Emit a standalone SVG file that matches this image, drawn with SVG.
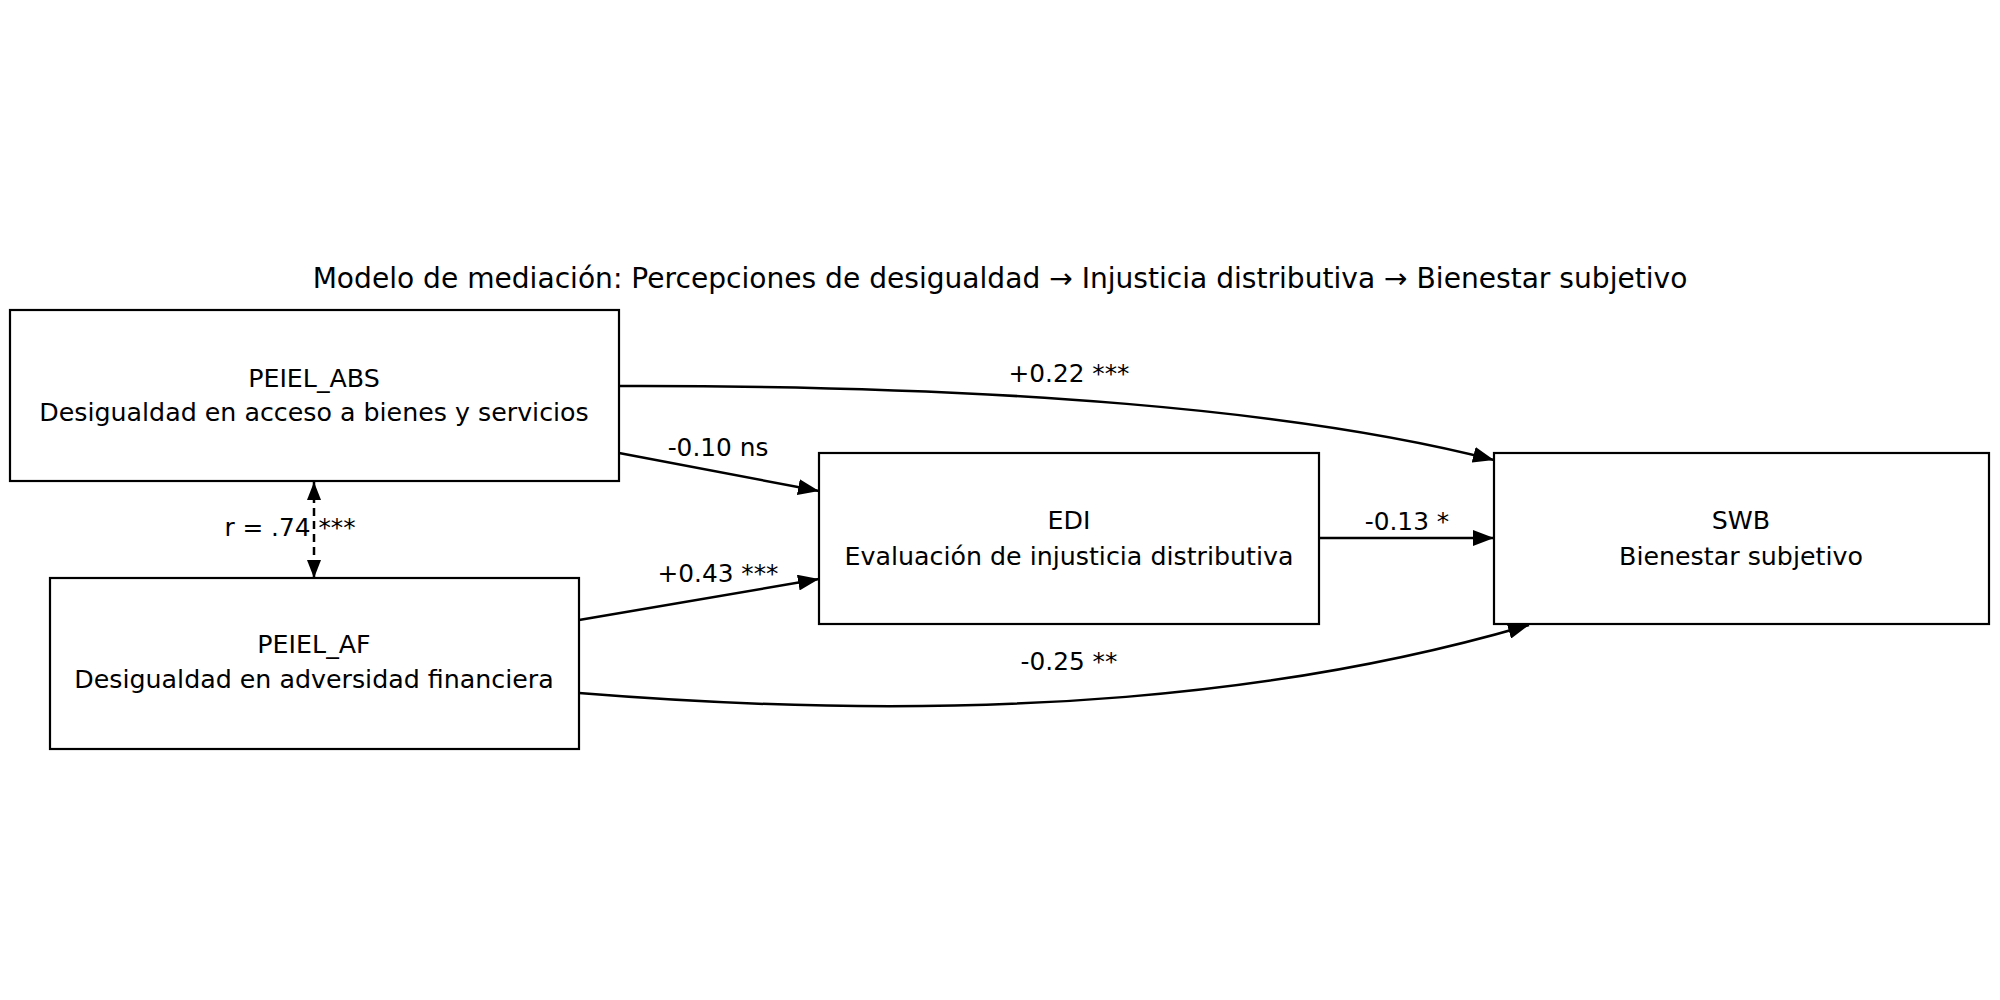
<svg xmlns="http://www.w3.org/2000/svg" width="2000" height="1000" viewBox="0 0 2000 1000">
<defs>
<style>
text{font-family:"DejaVu Sans","Liberation Sans",sans-serif;fill:#000;text-anchor:middle}
.t{font-size:28.1px}
.n{font-size:25.3px}
.l{font-size:24.8px}
.box{fill:#fff;stroke:#000;stroke-width:2.2}
.e{fill:none;stroke:#000;stroke-width:2.5}
</style>
<marker id="ah" viewBox="0 0 21 16" refX="21" refY="8" markerWidth="21" markerHeight="16" markerUnits="userSpaceOnUse" orient="auto"><path d="M0,0 L21,8 L0,16 z" fill="#000"/></marker>
<marker id="as" viewBox="0 0 18 14" refX="18" refY="7" markerWidth="18" markerHeight="14" markerUnits="userSpaceOnUse" orient="auto-start-reverse"><path d="M0,0 L18,7 L0,14 z" fill="#000"/></marker>
</defs>
<rect width="2000" height="1000" fill="#fff"/>
<text class="t" x="1000" y="288">Modelo de mediación: Percepciones de desigualdad → Injusticia distributiva → Bienestar subjetivo</text>
<g id="connectors">
<path class="e" d="M619,453 L819,491" marker-end="url(#ah)"/>
<path class="e" d="M579,620 L819,579" marker-end="url(#ah)"/>
<path class="e" d="M1319,538 L1494,538" marker-end="url(#ah)"/>
<path class="e" d="M619,386 C1000,385 1300,410 1494,460" marker-end="url(#ah)"/>
<path class="e" d="M579,693 C1000,727 1300,692 1529,625" marker-end="url(#ah)"/>
<path class="e" d="M314,482 L314,578" stroke-dasharray="8,5" marker-start="url(#as)" marker-end="url(#as)"/>
<text class="l" x="718" y="456">-0.10 ns</text>
<text class="l" x="718" y="582">+0.43 ***</text>
<text class="l" x="1407" y="530">-0.13 *</text>
<text class="l" x="1069" y="382">+0.22 ***</text>
<text class="l" x="1069" y="670">-0.25 **</text>
<text class="l" x="290" y="536">r = .74 ***</text>
</g>
<g id="PEIEL_ABS">
<rect class="box" x="10" y="310" width="609" height="171"/>
<text class="n" x="314" y="387">PEIEL_ABS</text>
<text class="n" x="314" y="421">Desigualdad en acceso a bienes y servicios</text>
</g>
<g id="PEIEL_AF">
<rect class="box" x="50" y="578" width="529" height="171"/>
<text class="n" x="314" y="653">PEIEL_AF</text>
<text class="n" x="314" y="688">Desigualdad en adversidad financiera</text>
</g>
<g id="EDI">
<rect class="box" x="819" y="453" width="500" height="171"/>
<text class="n" x="1069" y="529">EDI</text>
<text class="n" x="1069" y="565">Evaluación de injusticia distributiva</text>
</g>
<g id="SWB">
<rect class="box" x="1494" y="453" width="495" height="171"/>
<text class="n" x="1741" y="529">SWB</text>
<text class="n" x="1741" y="565">Bienestar subjetivo</text>
</g>
</svg>
